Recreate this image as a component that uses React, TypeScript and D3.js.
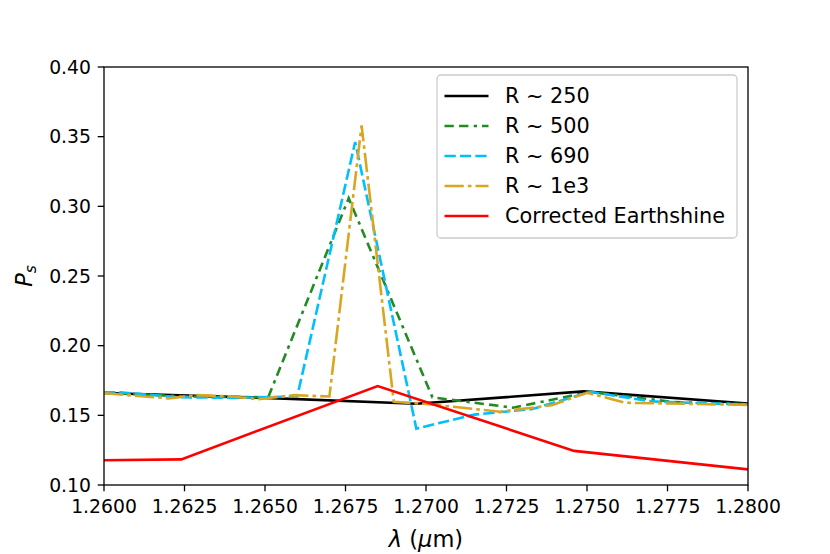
import React from "react";
import * as d3 from "d3";

const xTicks = [1.26, 1.2625, 1.265, 1.2675, 1.27, 1.2725, 1.275, 1.2775, 1.28];
const yTicks = [0.1, 0.15, 0.2, 0.25, 0.3, 0.35, 0.4];

const r250X = [1.26, 1.265, 1.2697, 1.2749, 1.28];
const r250Y = [0.166, 0.1625, 0.1583, 0.1672, 0.1585];

const r500X = [1.26, 1.2626, 1.2651, 1.2676, 1.2702, 1.2727, 1.2751, 1.2777, 1.28];
const r500Y = [0.1662, 0.1635, 0.163, 0.3058, 0.1629, 0.1555, 0.1668, 0.1595, 0.158];

const r690X = [1.26, 1.2605, 1.2623, 1.2641, 1.266, 1.2678, 1.2697, 1.2715, 1.2733, 1.2751, 1.277, 1.2788, 1.28];
const r690Y = [0.1665, 0.1665, 0.163, 0.1625, 0.1635, 0.3462, 0.1405, 0.1505, 0.1545, 0.1668, 0.16, 0.1585, 0.1578];

const r1e3X = [1.26, 1.262, 1.2629, 1.264, 1.2648, 1.2659, 1.267, 1.268, 1.269, 1.27, 1.2723, 1.2739, 1.275, 1.2762, 1.28];
const r1e3Y = [0.1658, 0.1622, 0.1645, 0.1635, 0.1615, 0.1645, 0.1635, 0.3581, 0.1597, 0.1582, 0.1526, 0.1572, 0.1662, 0.159, 0.1575];

const esX = [1.26, 1.2624, 1.2685, 1.2746, 1.28];
const esY = [0.1178, 0.1184, 0.171, 0.1245, 0.1112];

const series = [
  { label: "R ~ 250", xs: r250X, ys: r250Y, color: "#000000", dash: "" },
  { label: "R ~ 500", xs: r500X, ys: r500Y, color: "#228b22", dash: "9.3 5.3 9.3 5.3 3.3 5" },
  { label: "R ~ 690", xs: r690X, ys: r690Y, color: "#00bfff", dash: "11.3 4.1" },
  { label: "R ~ 1e3", xs: r1e3X, ys: r1e3Y, color: "#daa520", dash: "19.3 4 3.7 4" },
  { label: "Corrected Earthshine", xs: esX, ys: esY, color: "#ff0000", dash: "" },
];

const W = 830, H = 554;
const L = 104, R = 748, T = 67, B = 485;
const FONT = "DejaVu Sans, sans-serif";
const TICK_FS = 18.8;
const LEG_FS = 20.8;
const LAB_FS = 22.5;

export default function App() {
  const x = d3.scaleLinear().domain([1.26, 1.28]).range([L, R]);
  const y = d3.scaleLinear().domain([0.1, 0.4]).range([B, T]);
  const line = d3.line<number>();
  const legX = 437, legY = 75, legW = 300, legH = 163;
  return (
    <svg width={W} height={H} style={{ position: "absolute", left: 0, top: 0 }} fontFamily={FONT}>
      <rect x={0} y={0} width={W} height={H} fill="#fff" />
      <defs>
        <clipPath id="clip">
          <rect x={L} y={T} width={R - L} height={B - T} />
        </clipPath>
      </defs>
      <g clipPath="url(#clip)">
        {series.map((s) => (
          <path
            key={s.label}
            d={line(s.xs.map((v, i) => [x(v), y(s.ys[i])] as [number, number])) || ""}
            fill="none"
            stroke={s.color}
            strokeWidth={2.6}
            strokeDasharray={s.dash || undefined}
            strokeLinejoin="miter"
          />
        ))}
      </g>
      <rect x={L} y={T} width={R - L} height={B - T} fill="none" stroke="#000" strokeWidth={1.3} />
      {xTicks.map((t) => (
        <g key={"x" + t}>
          <line x1={x(t)} x2={x(t)} y1={B} y2={B + 6.3} stroke="#000" strokeWidth={1.3} />
          <text x={x(t)} y={B + 28} fontSize={TICK_FS} textAnchor="middle">{t.toFixed(4)}</text>
        </g>
      ))}
      {yTicks.map((t) => (
        <g key={"y" + t}>
          <line x1={L - 6.3} x2={L} y1={y(t)} y2={y(t)} stroke="#000" strokeWidth={1.3} />
          <text x={L - 13} y={y(t)} dy="0.36em" fontSize={TICK_FS} textAnchor="end">{t.toFixed(2)}</text>
        </g>
      ))}
      <text x={(L + R) / 2} y={547} fontSize={LAB_FS} textAnchor="middle">
        <tspan fontStyle="italic">λ</tspan> (<tspan fontStyle="italic">μ</tspan>m)
      </text>
      <text transform={`translate(32, ${(T + B) / 2}) rotate(-90)`} fontSize={LAB_FS} textAnchor="middle">
        <tspan fontStyle="italic">P</tspan>
        <tspan fontStyle="italic" fontSize={15.5} dy={4}>s</tspan>
      </text>
      <rect x={legX} y={legY} width={legW} height={legH} rx={4} fill="#fff" fillOpacity={0.8} stroke="#cccccc" strokeWidth={1.3} />
      {series.map((s, i) => {
        const cy = legY + 21 + i * 30;
        return (
          <g key={"l" + s.label}>
            <line x1={444.5} x2={488.5} y1={cy} y2={cy} stroke={s.color} strokeWidth={2.6} strokeDasharray={s.dash || undefined} />
            <text x={505} y={cy} dy="0.36em" fontSize={LEG_FS}>{s.label}</text>
          </g>
        );
      })}
    </svg>
  );
}
